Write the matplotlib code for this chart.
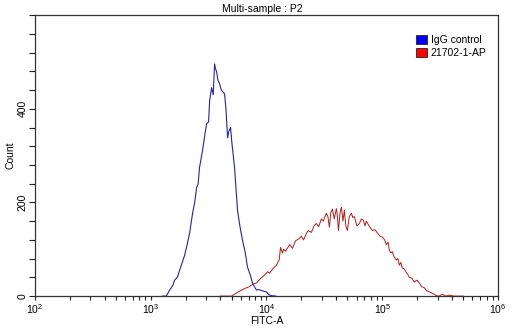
import numpy as np
import matplotlib
matplotlib.use('Agg')
import matplotlib.pyplot as plt
from matplotlib.ticker import LogLocator, MultipleLocator, FixedLocator
from matplotlib.patches import Patch

# log10(FITC-A) and counts
igg_log = [3.10, 3.135, 3.164, 3.19, 3.207, 3.23, 3.25, 3.27, 3.293, 3.315, 3.336, 3.362,
           3.38, 3.397, 3.41, 3.422, 3.448, 3.465, 3.483, 3.50, 3.509, 3.526, 3.54, 3.552,
           3.56, 3.569, 3.58, 3.595, 3.61, 3.638, 3.65, 3.664, 3.675, 3.69, 3.70, 3.724,
           3.75, 3.77, 3.793, 3.815, 3.836, 3.86, 3.879, 3.90, 3.914, 3.93, 3.957, 3.98,
           4.0, 4.02, 4.043, 4.08]
igg_count = [0, 0, 13, 22, 34, 40, 55, 70, 87, 110, 134, 177,
             200, 232, 240, 275, 311, 340, 368, 372, 417, 445, 430, 496,
             485, 480, 462, 453, 440, 432, 400, 338, 352, 360, 330, 275,
             183, 150, 119, 95, 62, 45, 28, 18, 13, 14, 12, 10,
             9, 3, 1, 0]

ap_log = [3.60, 3.698, 3.75, 3.81, 3.85, 3.879, 3.914, 3.95, 3.983, 4.01, 4.026, 4.06,
          4.086, 4.11, 4.121, 4.138, 4.147, 4.165, 4.18, 4.20, 4.224, 4.25, 4.284, 4.30,
          4.32, 4.345, 4.36, 4.388, 4.41, 4.431, 4.45, 4.474, 4.49, 4.517, 4.53, 4.543,
          4.555, 4.569, 4.585, 4.603, 4.612, 4.621, 4.635, 4.647, 4.66, 4.672, 4.685, 4.698,
          4.715, 4.733, 4.745, 4.759, 4.78, 4.802, 4.82, 4.836, 4.85, 4.862, 4.89, 4.914,
          4.935, 4.957, 4.98, 5.0, 5.02, 5.034, 5.05, 5.06, 5.075, 5.086, 5.10, 5.121,
          5.135, 5.147, 5.16, 5.172, 5.19, 5.207, 5.22, 5.233, 5.255, 5.276, 5.30, 5.319,
          5.34, 5.362, 5.38, 5.405, 5.44, 5.466, 5.49, 5.517, 5.55, 5.578, 5.62, 5.70]
ap_count = [0, 0, 8, 16, 20, 25, 28, 38, 45, 52, 49, 60,
            66, 78, 104, 92, 100, 96, 102, 110, 102, 118, 123, 128,
            120, 134, 140, 136, 150, 155, 148, 165, 160, 177, 170, 147,
            178, 186, 165, 187, 170, 140, 178, 190, 160, 183, 150, 140,
            170, 177, 168, 170, 150, 155, 165, 162, 150, 160, 148, 140,
            142, 135, 128, 126, 120, 110, 115, 98, 92, 95, 85, 77,
            80, 66, 72, 60, 58, 50, 46, 40, 38, 30, 34, 28,
            20, 18, 12, 9, 5, 1, 0, 4, 0, 2, 0, 0]

legend_labels = ['IgG control', '21702-1-AP']

plt.rcParams['font.family'] = ['Liberation Sans', 'DejaVu Sans']
plt.rcParams['mathtext.fontset'] = 'custom'
plt.rcParams['mathtext.rm'] = 'Liberation Sans'
plt.rcParams['mathtext.it'] = 'Liberation Sans'

fig = plt.figure(figsize=(5.12, 3.29), dpi=100)
ax = fig.add_axes([0.068, 0.100, 0.905, 0.854])

ax.plot(10 ** np.array(igg_log), igg_count, color='#2424a8', lw=0.8)
ax.plot(10 ** np.array(ap_log), ap_count, color='#b41c1c', lw=0.7)

ax.set_xscale('log')
ax.set_xlim(1e2, 1e6)
ax.set_ylim(0, 600)
ax.xaxis.set_major_locator(LogLocator(base=10, numticks=10))
ax.xaxis.set_minor_locator(LogLocator(base=10, subs=np.arange(2, 10), numticks=20))
ax.yaxis.set_major_locator(FixedLocator([0, 200, 400]))
ax.yaxis.set_minor_locator(MultipleLocator(40))

ax.tick_params(which='both', direction='out', labelsize=7.5, width=0.8, color='#222222')
ax.tick_params(axis='x', which='both', length=3, pad=1.5)
ax.tick_params(axis='y', which='both', length=4, pad=1.0)
for lbl in ax.get_yticklabels():
    lbl.set_rotation(90)
    lbl.set_va('center')
for s in ax.spines.values():
    s.set_linewidth(0.9)
    s.set_color('#333333')

ax.set_xlabel('FITC-A', fontsize=7.5, labelpad=0)
ax.set_ylabel('Count', fontsize=7.5, labelpad=2)
ax.set_title('Multi-sample : P2', fontsize=7.5, pad=2.5, x=0.49)

handles = [Patch(facecolor='#0000ff', edgecolor='#222222', lw=0.6),
           Patch(facecolor='#ff0000', edgecolor='#222222', lw=0.6)]
ax.legend(handles, legend_labels, loc='upper right', fontsize=7.5, frameon=False,
          handlelength=1.0, handleheight=1.0, handletextpad=0.4, labelspacing=0.25,
          borderaxespad=0.4, bbox_to_anchor=(0.993, 0.96))

fig.savefig('out.png', dpi=100)
